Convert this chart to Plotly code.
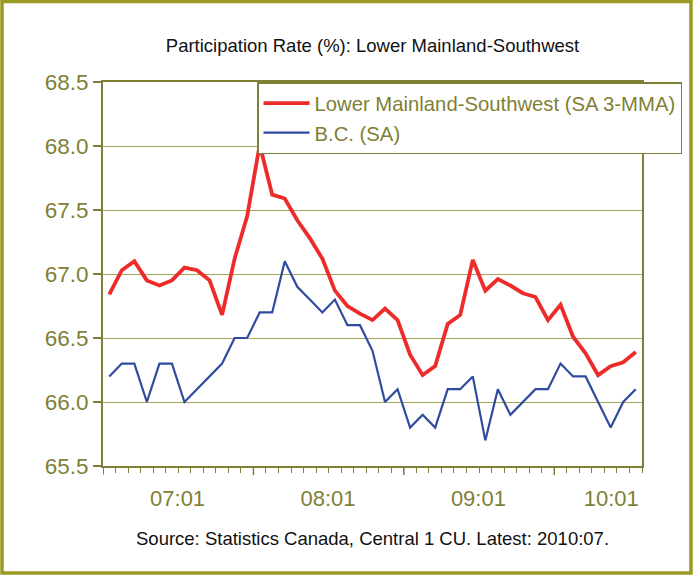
import plotly.graph_objects as go

# Participation rate (%), monthly 2007:01 .. 2010:07
lms = [66.84, 67.03, 67.10, 66.95, 66.91, 66.95, 67.05, 67.03, 66.95, 66.68,
       67.12, 67.45, 68.01, 67.62, 67.59, 67.42, 67.28, 67.12, 66.87, 66.75,
       66.69, 66.64, 66.73, 66.64, 66.37, 66.21, 66.28, 66.61, 66.68, 67.11,
       66.87, 66.96, 66.91, 66.85, 66.82, 66.64, 66.76, 66.51, 66.38, 66.21,
       66.28, 66.31, 66.39]
bc = [66.2, 66.3, 66.3, 66.0, 66.3, 66.3, 66.0, 66.1, 66.2, 66.3,
      66.5, 66.5, 66.7, 66.7, 67.1, 66.9, 66.8, 66.7, 66.8, 66.6,
      66.6, 66.4, 66.0, 66.1, 65.8, 65.9, 65.8, 66.1, 66.1, 66.2,
      65.7, 66.1, 65.9, 66.0, 66.1, 66.1, 66.3, 66.2, 66.2, 66.0,
      65.8, 66.0, 66.1]
tick_labels = ["07:01", "08:01", "09:01", "10:01"]
tick_pos = [5.45, 17.45, 29.45, 40.05]
year_starts = [-0.5, 11.5, 23.5, 35.5]

x = list(range(len(lms)))

OLIVE = "#7f7f35"
GRID = "#a4a45c"
FRAME = "#9a9a22"
FONT = "Liberation Sans, Arial, sans-serif"

W, H = 693, 575
ML, MR, MT, MB = 103, 51, 82, 109

fig = go.Figure()
fig.add_trace(go.Scatter(x=x, y=lms, mode="lines",
                         name="Lower Mainland-Southwest (SA 3-MMA)",
                         line=dict(color="#ee2b2b", width=3.8)))
fig.add_trace(go.Scatter(x=x, y=bc, mode="lines", name="B.C. (SA)",
                         line=dict(color="#2f4b9f", width=2.2)))

shapes = []
for ys in year_starts:
    shapes.append(dict(type="line", xref="x", yref="paper", x0=ys, x1=ys,
                       ysizemode="pixel", yanchor=0, y0=0, y1=-9,
                       line=dict(color=OLIVE, width=1.5)))
pw = W - ML - MR
ph = H - MT - MB
shapes.append(dict(type="rect", xref="paper", yref="paper",
                   x0=(2 - ML) / pw, x1=(691 - ML) / pw,
                   y0=-(H - 2 - MT - ph) / ph, y1=1 + (MT - 1.5) / ph,
                   line=dict(color=FRAME, width=3.5), layer="below"))

fig.update_layout(
    width=W, height=H,
    margin=dict(l=ML, r=MR, t=MT, b=MB, autoexpand=False),
    paper_bgcolor="white", plot_bgcolor="white",
    font=dict(family=FONT, color=OLIVE),
    title=dict(text="Participation Rate (%): Lower Mainland-Southwest",
               font=dict(size=18.5, color="#111111", family=FONT),
               x=(ML + pw / 2) / W, xanchor="center", y=1 - 46 / H, yanchor="middle"),
    xaxis=dict(range=[-0.5, len(lms) - 0.5], tickvals=tick_pos, ticktext=tick_labels,
               ticks="", showgrid=False, zeroline=False,
               showline=True, linecolor=OLIVE, linewidth=2, mirror=True,
               tickfont=dict(size=22, color=OLIVE), ticklabelstandoff=12,
               minor=dict(ticks="outside", tick0=-0.5, dtick=1, ticklen=5,
                          tickwidth=1.2, tickcolor=OLIVE, showgrid=False)),
    yaxis=dict(range=[65.5, 68.5], dtick=0.5, tick0=65.5, tickformat=".1f",
               ticks="outside", ticklen=8, tickwidth=1.5, tickcolor=OLIVE,
               showgrid=True, gridcolor=GRID, gridwidth=1, zeroline=False,
               showline=True, linecolor=OLIVE, linewidth=2, mirror=True,
               tickfont=dict(size=22.5, color=OLIVE)),
    legend=dict(x=(257 - ML) / pw, y=1, xanchor="left", yanchor="top",
                bgcolor="white", bordercolor=OLIVE, borderwidth=1.5,
                font=dict(size=20.3, color=OLIVE), itemwidth=46,
                tracegroupgap=0),
    shapes=shapes,
    annotations=[dict(text="Source: Statistics Canada, Central 1 CU. Latest: 2010:07.",
                      xref="paper", yref="paper", x=0.5, y=-(538 - (MT + ph)) / ph,
                      xanchor="center", yanchor="middle", showarrow=False,
                      font=dict(size=18.5, color="#111111", family=FONT))],
    showlegend=True,
)

fig.write_html("out.html", config={"displayModeBar": False},
               post_script="document.body.style.margin='0';document.body.style.overflow='hidden';")
